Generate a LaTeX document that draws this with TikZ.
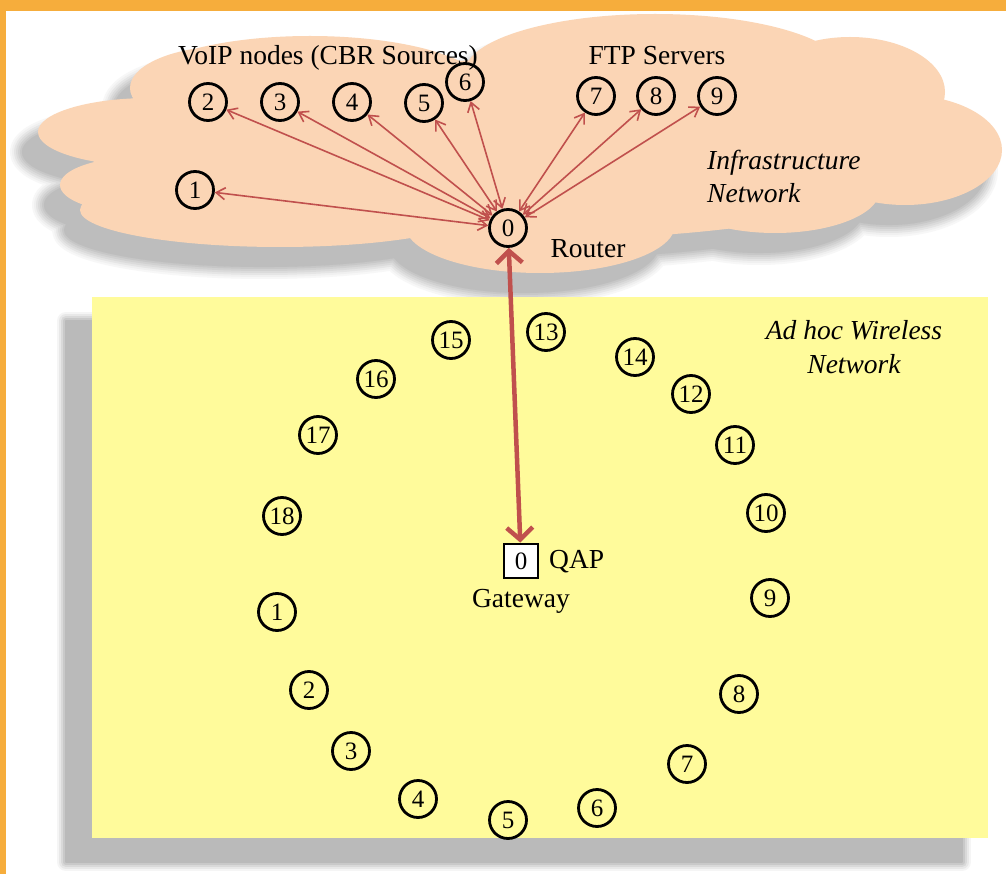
\documentclass[tikz,border=0pt]{standalone}
\usepackage{fontspec}
\setmainfont{Liberation Serif}
\usetikzlibrary{arrows.meta}
\definecolor{frameor}{RGB}{246,173,60}
\definecolor{peach}{RGB}{251,213,181}
\definecolor{padyel}{RGB}{255,251,155}
\definecolor{linkred}{RGB}{192,80,77}
\tikzset{
  cloudp/.style={insert path={
    (520,150) ellipse [x radius=430pt, y radius=90pt]
    (310,88) ellipse [x radius=175pt, y radius=52pt]
    (655,72) ellipse [x radius=190pt, y radius=58pt]
    (850,92) ellipse [x radius=95pt, y radius=55pt]
    (905,150) ellipse [x radius=97pt, y radius=55pt]
    (775,190) ellipse [x radius=105pt, y radius=43pt]
    (540,225) ellipse [x radius=135pt, y radius=48pt]
    (280,210) ellipse [x radius=200pt, y radius=37pt]
    (150,132) ellipse [x radius=112pt, y radius=34pt]
    (140,185) ellipse [x radius=80pt, y radius=28pt]
    (230,88) ellipse [x radius=100pt, y radius=42pt]}},
  padp/.style={insert path={(92,297) rectangle (988,838)}},
  nd/.style={circle, draw=black, line width=2.8pt, minimum size=37pt, inner sep=0pt,
    font=\fontsize{25}{25}\selectfont},
  gwbox/.style={rectangle, draw=black, line width=2.8pt, fill=white, minimum width=34pt,
    minimum height=34pt, inner sep=0pt, font=\fontsize{25}{25}\selectfont},
  lbl/.style={font=\fontsize{27.5}{33}\selectfont, inner sep=0pt, anchor=base},
  ilbl/.style={font=\fontsize{27.5}{33}\selectfont\itshape, inner sep=0pt, anchor=base},
  link/.style={draw=linkred, line width=1.6pt,
    {Straight Barb[length=9pt,width=12pt]}-{Straight Barb[length=9pt,width=12pt]}},
  uplink/.style={draw=linkred, line width=4.5pt,
    {Straight Barb[length=12pt,width=26pt]}-{Straight Barb[length=12pt,width=26pt]}},
}
\begin{document}
\begin{tikzpicture}[x=1pt,y=-1pt]
\useasboundingbox (0,0) rectangle (1006,874);
\fill[white] (0,0) rectangle (1006,874);
% frame
\fill[frameor] (0,0) rectangle (1006,11);
\fill[frameor] (0,0) rectangle (6,874);
% cloud shadow (soft, layered)
\foreach \w/\c in {24/3, 20/6, 16/10, 12/14, 8/18, 4/22, 0.1/26} {
  \filldraw[shift={(-16,20)}, draw=black!\c, fill=black!\c, line width=\w pt, line join=round, cloudp];
}
% cloud
\fill[peach, cloudp];
% ad hoc area shadow
\foreach \w/\c in {18/4, 14/9, 10/15, 6/21, 2/27} {
  \filldraw[shift={(-26,24)}, draw=black!\c, fill=black!\c, line width=\w pt, line join=round, padp];
}
\fill[padyel, padp];

% cloud texts
\node[lbl] (voip) at (328,65) {VoIP nodes (CBR Sources)};
\node[lbl] (ftp) at (657,65) {FTP Servers};
\node[lbl] (router) at (588,258) {Router};
\node[ilbl, anchor=base west] (inf1) at (707,170) {Infrastructure};
\node[ilbl, anchor=base west] (inf2) at (707,203) {Network};

% cloud nodes
\node[nd] (t0) at (508,228) {0};
\node[nd] (t1) at (195,190) {1};
\node[nd] (t2) at (208,102) {2};
\node[nd] (t3) at (280,102) {3};
\node[nd] (t4) at (352,102) {4};
\node[nd] (t5) at (424,103) {5};
\node[nd] (t6) at (465,82) {6};
\node[nd] (t7) at (596,96) {7};
\node[nd] (t8) at (656,96) {8};
\node[nd] (t9) at (717,96) {9};
\foreach \k in {1,...,9} { \draw[link] (t0) -- (t\k); }

% ad hoc texts
\node[ilbl] (ah1) at (854,340) {Ad hoc Wireless};
\node[ilbl] (ah2) at (854,373) {Network};

% gateway
\node[gwbox] (gw) at (521,561) {0};
\node[lbl, anchor=base west] (qap) at (549,568) {QAP};
\node[lbl] (gwl) at (521,607) {Gateway};
\draw[uplink] (t0) -- (gw);

% ad hoc nodes
\node[nd] (a1) at (277,612) {1};
\node[nd] (a2) at (309,690) {2};
\node[nd] (a3) at (351,751) {3};
\node[nd] (a4) at (418,799) {4};
\node[nd] (a5) at (508,820) {5};
\node[nd] (a6) at (597,808) {6};
\node[nd] (a7) at (687,764) {7};
\node[nd] (a8) at (739,694) {8};
\node[nd] (a9) at (770,598) {9};
\node[nd] (a10) at (766,513) {10};
\node[nd] (a11) at (735,445) {11};
\node[nd] (a12) at (691,394) {12};
\node[nd] (a13) at (546,332) {13};
\node[nd] (a14) at (635,357) {14};
\node[nd] (a15) at (451,340) {15};
\node[nd] (a16) at (376,379) {16};
\node[nd] (a17) at (318,435) {17};
\node[nd] (a18) at (282,516) {18};
\end{tikzpicture}
\end{document}
